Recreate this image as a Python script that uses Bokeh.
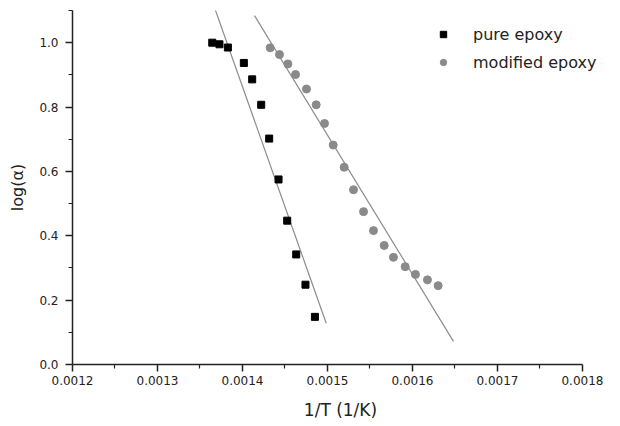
from bokeh.plotting import figure
from bokeh.models import Range1d, FixedTicker, PrintfTickFormatter, Legend, LegendItem
from bokeh.embed import file_html
from bokeh.resources import INLINE

# ---- data ----
pure_x = [0.0013644, 0.0013729, 0.0013828, 0.0014016, 0.0014114, 0.0014220,
          0.0014314, 0.0014424, 0.0014526, 0.0014632, 0.0014741, 0.0014852]
pure_y = [1.000, 0.995, 0.985, 0.937, 0.886, 0.807,
          0.702, 0.575, 0.447, 0.342, 0.248, 0.148]

mod_x = [0.0014326, 0.0014435, 0.0014534, 0.0014624, 0.0014753, 0.0014867,
         0.0014965, 0.0015067, 0.0015196, 0.0015306, 0.0015424, 0.0015541,
         0.0015667, 0.0015776, 0.0015914, 0.0016035, 0.0016176, 0.0016302]
mod_y = [0.984, 0.963, 0.934, 0.901, 0.856, 0.807,
         0.749, 0.682, 0.613, 0.543, 0.475, 0.416,
         0.370, 0.333, 0.304, 0.280, 0.263, 0.245]

# fitted lines (end points)
pure_fit_x = [0.001368, 0.0014985]
pure_fit_y = [1.102, 0.128]
mod_fit_x = [0.0014141, 0.0016482]
mod_fit_y = [1.084, 0.072]

x_ticks = [0.0012, 0.0013, 0.0014, 0.0015, 0.0016, 0.0017, 0.0018]
x_minor = [0.00125, 0.00135, 0.00145, 0.00155, 0.00165, 0.00175]
y_ticks = [0.0, 0.2, 0.4, 0.6, 0.8, 1.0]
y_minor = [0.1, 0.3, 0.5, 0.7, 0.9, 1.1]

labels = ["pure epoxy", "modified epoxy"]
x_title = "1/T (1/K)"
y_title = "log(\u03b1)"

FONT = "DejaVu Sans"
AXC = "#222222"

p = figure(width=616, height=424, output_backend="svg", toolbar_location=None,
           x_range=Range1d(0.0012, 0.0018306), y_range=Range1d(0.0, 1.1),
           min_border_left=72, min_border_right=8, min_border_top=10,
           min_border_bottom=60)
p.grid.visible = False
p.outline_line_color = None
p.background_fill_color = "white"
p.border_fill_color = "white"

p.line(pure_fit_x, pure_fit_y, line_color="#8c8c8c", line_width=1.2)
p.line(mod_fit_x, mod_fit_y, line_color="#8c8c8c", line_width=1.2)
r1 = p.scatter(pure_x, pure_y, marker="square", size=7, color="black")
r2 = p.scatter(mod_x, mod_y, marker="circle", size=8, color="#8a8a8a")

p.xaxis.ticker = FixedTicker(ticks=x_ticks, minor_ticks=x_minor)
p.yaxis.ticker = FixedTicker(ticks=y_ticks, minor_ticks=y_minor)
p.xaxis.formatter = PrintfTickFormatter(format="%.4f")
p.yaxis.formatter = PrintfTickFormatter(format="%.1f")
p.xaxis.bounds = (0.0012, 0.0018)

for ax in (p.xaxis[0], p.yaxis[0]):
    ax.axis_line_color = AXC
    ax.axis_line_width = 1.5
    ax.major_tick_line_color = AXC
    ax.major_tick_line_width = 1.5
    ax.minor_tick_line_color = AXC
    ax.minor_tick_line_width = 1.2
    ax.major_tick_in = 0
    ax.major_tick_out = 7
    ax.minor_tick_in = 0
    ax.minor_tick_out = 4
    ax.major_label_text_font = FONT
    ax.major_label_text_font_size = "12px"
    ax.major_label_text_color = AXC
    ax.axis_label_text_font = FONT
    ax.axis_label_text_font_style = "normal"
    ax.axis_label_text_color = AXC

p.xaxis.axis_label = x_title
p.yaxis.axis_label = y_title
p.xaxis.axis_label_text_font_size = "17px"
p.yaxis.axis_label_text_font_size = "16px"
p.xaxis.major_label_standoff = 4
p.yaxis.major_label_standoff = 7
p.xaxis.axis_label_standoff = 12
p.yaxis.axis_label_standoff = 9

legend = Legend(items=[LegendItem(label=labels[0], renderers=[r1]),
                       LegendItem(label=labels[1], renderers=[r2])],
                location=(363, 292), glyph_width=16, glyph_height=20,
                label_standoff=22, spacing=8, padding=5, margin=0,
                border_line_color=None, background_fill_alpha=0,
                label_text_font=FONT, label_text_font_size="16px",
                label_text_color=AXC)
p.add_layout(legend)

open("out.html", "w").write(file_html(p, INLINE))
